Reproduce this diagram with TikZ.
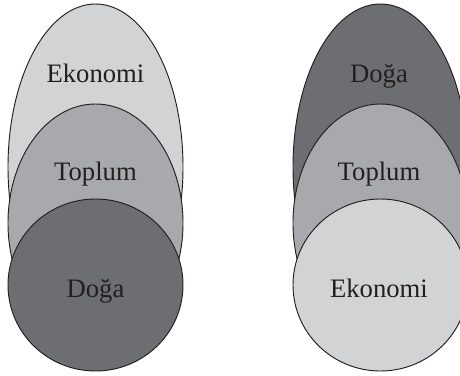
\documentclass[tikz,border=0pt]{standalone}
\usepackage{fontspec}
\setmainfont{Liberation Serif}
\definecolor{mylightcolor}{HTML}{D1D3D4}
\definecolor{mymidcolor}{HTML}{A7A9AC}
\definecolor{mydarkcolor}{HTML}{6D6E71}
\definecolor{mytextcolor}{HTML}{231F20}
\tikzset{
  ring/.style={draw=mytextcolor, line width=0.7pt},
  ringlabel/.style={anchor=base, text=mytextcolor, inner sep=0pt}
}
\begin{document}
\begin{tikzpicture}[x=0.75pt, y=-0.75pt]%
\useasboundingbox (0,0) rectangle (460,375);%
\clip (0,0) rectangle (460,375);%
% left stack
\draw[ring, fill=mylightcolor] (95.5,167) ellipse [x radius=87.5, y radius=163];%
\draw[ring, fill=mymidcolor] (95.5,223) ellipse [x radius=87.5, y radius=119];%
\draw[ring, fill=mydarkcolor] (95.5,285) ellipse [x radius=87.5, y radius=86];%
\node[ringlabel] (ekonomiL) at (95.5,82) {\fontsize{20pt}{20pt}\selectfont Ekonomi};%
\node[ringlabel] (toplumL) at (95.5,180) {\fontsize{20pt}{20pt}\selectfont Toplum};%
\node[ringlabel] (dogaL) at (95.5,297) {\fontsize{20pt}{20pt}\selectfont Doğa};%
% right stack
\draw[ring, fill=mydarkcolor] (380.5,167) ellipse [x radius=87.5, y radius=163];%
\draw[ring, fill=mymidcolor] (380.5,223) ellipse [x radius=87.5, y radius=119];%
\draw[ring, fill=mylightcolor] (380.5,285) ellipse [x radius=87.5, y radius=86];%
\node[ringlabel] (dogaR) at (379,82) {\fontsize{20pt}{20pt}\selectfont Doğa};%
\node[ringlabel] (toplumR) at (379,180) {\fontsize{20pt}{20pt}\selectfont Toplum};%
\node[ringlabel] (ekonomiR) at (379,297) {\fontsize{20pt}{20pt}\selectfont Ekonomi};%
\end{tikzpicture}
\end{document}
